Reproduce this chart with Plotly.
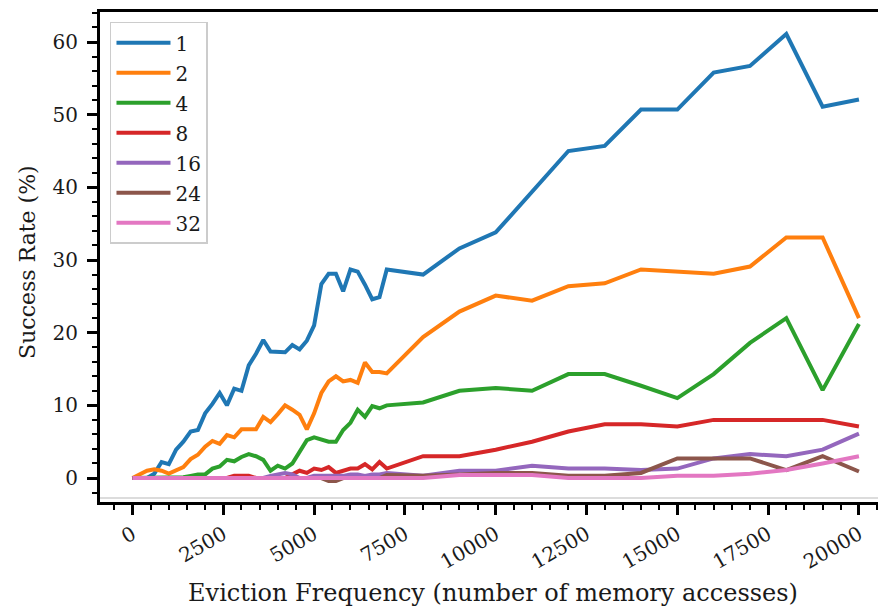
import plotly.graph_objects as go

# Eviction frequency (number of memory accesses)
x_vals = [0, 200, 400, 600, 800, 1000, 1200, 1400, 1600, 1800,
          2000, 2200, 2400, 2600, 2800, 3000, 3200, 3400, 3600, 3800,
          4000, 4200, 4400, 4600, 4800, 5000, 5200, 5400, 5600, 5800,
          6000, 6200, 6400, 6600, 6800, 7000,
          8000, 9000, 10000, 11000, 12000, 13000, 14000, 15000,
          16000, 17000, 18000, 19000, 20000]

series_names = ["1", "2", "4", "8", "16", "24", "32"]

s1 = [0, 0, 0, 0.6, 2.2, 1.9, 3.9, 5.0, 6.4, 6.6,
      8.9, 10.2, 11.7, 10.0, 12.3, 12.0, 15.5, 17.1, 19.0, 17.4,
      17.3, 17.3, 18.3, 17.7, 18.9, 21.0, 26.7, 28.1, 28.1, 25.7,
      28.7, 28.4, 26.6, 24.6, 24.9, 28.7,
      28.0, 31.6, 33.8, 39.4, 45.0, 45.7, 50.7, 50.7,
      55.8, 56.7, 61.1, 51.1, 52.1]
s2 = [0, 0.5, 1.0, 1.2, 1.0, 0.6, 1.0, 1.5, 2.6, 3.2,
      4.3, 5.1, 4.7, 5.9, 5.6, 6.7, 6.7, 6.7, 8.4, 7.7,
      8.8, 10.0, 9.4, 8.7, 6.7, 8.9, 11.7, 13.3, 14.0, 13.3,
      13.5, 13.1, 15.9, 14.6, 14.6, 14.4,
      19.4, 22.9, 25.1, 24.4, 26.4, 26.8, 28.7, 28.4,
      28.1, 29.1, 33.1, 33.1, 22.0]
s4 = [0, 0, 0, 0, 0, 0, 0, 0.1, 0.3, 0.5,
      0.5, 1.3, 1.6, 2.5, 2.3, 2.9, 3.3, 3.0, 2.5, 1.0,
      1.7, 1.3, 2.0, 3.6, 5.2, 5.6, 5.3, 5.0, 5.0, 6.6,
      7.6, 9.4, 8.4, 9.9, 9.6, 10.0,
      10.4, 12.0, 12.4, 12.0, 14.3, 14.3, 12.7, 11.0,
      14.3, 18.6, 22.0, 12.1, 21.2]
s8 = [0, 0, 0, 0, 0, 0, 0, 0, 0, 0,
      0, 0, 0, 0, 0.3, 0.3, 0.3, 0, 0, 0,
      0, 0, 0.5, 1.0, 0.7, 1.3, 1.1, 1.5, 0.7, 1.0,
      1.3, 1.3, 1.9, 1.2, 2.2, 1.3,
      3.0, 3.0, 3.9, 5.0, 6.4, 7.4, 7.4, 7.1,
      8.0, 8.0, 8.0, 8.0, 7.1]
s16 = [0, 0, 0, 0, 0, 0, 0, 0, 0, 0,
       0, 0, 0, 0, 0, 0, 0, 0, 0, 0.3,
       0.5, 0.7, 0.5, 0, 0, 0.3, 0.3, 0.3, 0.3, 0.3,
       0.5, 0.5, 0.3, 0.5, 0.5, 0.7,
       0.3, 1.0, 1.0, 1.7, 1.3, 1.3, 1.1, 1.3,
       2.7, 3.3, 3.0, 3.9, 6.1]
s24 = [0, 0, 0, 0, 0, 0, 0, 0, 0, 0,
       0, 0, 0, 0, 0, 0, 0, 0, 0, 0,
       0, 0, 0, 0, 0, 0, 0, -0.4, -0.4, 0,
       0, 0, 0, 0, 0, 0.4,
       0.3, 0.5, 0.7, 0.7, 0.3, 0.3, 0.7, 2.7,
       2.7, 2.7, 1.1, 3.0, 0.9]
s32 = [0, 0, 0, 0, 0, 0, 0, 0, 0, 0,
       0, 0, 0, 0, 0, 0, 0, 0, 0, 0,
       0, 0, 0, 0, 0, 0, 0, 0, 0, 0,
       0, 0, 0, 0, 0, 0,
       0, 0.4, 0.4, 0.4, 0, 0, 0, 0.3,
       0.3, 0.6, 1.1, 2.0, 3.0]

series_values = [s1, s2, s4, s8, s16, s24, s32]
colors = ["#1f77b4", "#ff7f0e", "#2ca02c", "#d62728", "#9467bd", "#8c564b", "#e377c2"]

FONT = "DejaVu Serif"

fig = go.Figure()
for name, vals, col in zip(series_names, series_values, colors):
    fig.add_trace(go.Scatter(
        x=x_vals, y=vals, name=name, mode="lines", legendgroup=name,
        line=dict(color=col, width=4),
    ))

# The page body has an 8px default margin; the figure is sized to fit inside it.
fig.update_layout(
    width=878, height=602,
    margin=dict(l=92, r=0, t=4, b=108),
    paper_bgcolor="white", plot_bgcolor="white",
    font=dict(family=FONT, size=20, color="#1a1a1a"),
    showlegend=True,
    legend=dict(
        x=0.0127, y=0.98, xanchor="left", yanchor="top",
        bgcolor="white", bordercolor="#cccccc", borderwidth=1.5,
        font=dict(family=FONT, size=20),
        tracegroupgap=1, itemwidth=54,
    ),
    xaxis=dict(
        range=[-895, 20745], automargin=False,
        tick0=0, dtick=2500, tickformat="d", tickangle=-30,
        ticks="outside", ticklen=10, tickwidth=2.5, tickcolor="black",
        tickfont=dict(family=FONT, size=20),
        showline=True, linecolor="black", linewidth=3, mirror=True,
        showgrid=False, zeroline=False,
        minor=dict(dtick=500, ticks="outside", ticklen=5, tickwidth=1.8,
                   tickcolor="black", showgrid=False),
        title=dict(text="Eviction Frequency (number of memory accesses)",
                   font=dict(family=FONT, size=24), standoff=12),
    ),
    yaxis=dict(
        range=[-3.30, 64.13], automargin=False,
        tick0=0, dtick=10,
        ticks="outside", ticklen=10, tickwidth=3, tickcolor="black",
        tickfont=dict(family=FONT, size=20), ticklabelstandoff=5,
        showline=True, linecolor="black", linewidth=3, mirror=False,
        showgrid=False, zeroline=False,
        minor=dict(dtick=2, ticks="outside", ticklen=5, tickwidth=1.8,
                   tickcolor="black", showgrid=False),
    ),
    annotations=[dict(text="Success Rate (%)", textangle=-90,
                      xref="paper", yref="paper", x=-0.0916, y=0.49,
                      xanchor="center", yanchor="middle", showarrow=False,
                      font=dict(family=FONT, size=22, color="#1a1a1a"))],
    shapes=[dict(type="line", xref="paper", yref="paper", x0=0, x1=1,
                 y0=0.008, y1=0.008, line=dict(color="#d0d0d0", width=1.5))],
)

fig.write_html("out.html")
